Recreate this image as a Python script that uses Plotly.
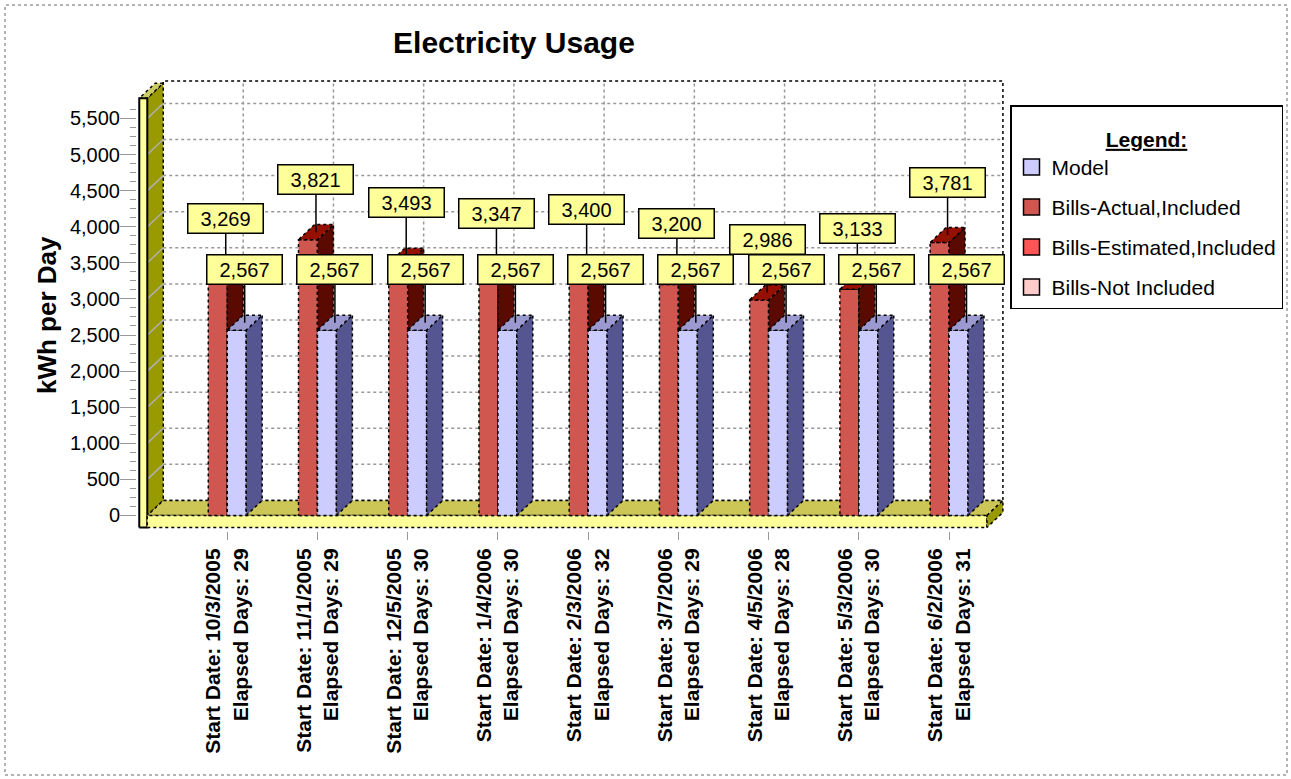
import plotly.graph_objects as go

# ---- data -------------------------------------------------------------
START_DATES = ["10/3/2005", "11/1/2005", "12/5/2005", "1/4/2006", "2/3/2006",
               "3/7/2006", "4/5/2006", "5/3/2006", "6/2/2006"]
ELAPSED_DAYS = [29, 29, 30, 30, 32, 29, 28, 30, 31]
BILLS_ACTUAL = [3269, 3821, 3493, 3347, 3400, 3200, 2986, 3133, 3781]
MODEL = [2567, 2567, 2567, 2567, 2567, 2567, 2567, 2567, 2567]
Y_TICKS = [0, 500, 1000, 1500, 2000, 2500, 3000, 3500, 4000, 4500, 5000, 5500]

LEGEND_NAMES = ["Model", "Bills-Actual,Included", "Bills-Estimated,Included", "Bills-Not Included"]
LEGEND_COLORS = ["#ccccff", "#d05650", "#ff5555", "#ffcccc"]

CATEGORY_LABELS = [f"Start Date: {d}<br>Elapsed Days: {n}" for d, n in zip(START_DATES, ELAPSED_DAYS)]
CATS = list(range(len(START_DATES)))

# ---- styling / pseudo-3D geometry (axis units) -------------------------
FONT = "Liberation Sans, Arial, sans-serif"
DX, DY = 0.177, 208          # depth offset of the back plane
BAR_W = 0.21                 # width of one bar face
WALL_L, WALL_R = -0.975, -0.886
WALL_TOP = 5780
FLOOR_R = 8.42
FLOOR_BOTTOM = -166
BACK_R = FLOOR_R + DX
BACK_TOP = 6020
X_RANGE = [-1.0, 8.62]
Y_RANGE = [-215, 6060]
MINOR_STEP = 125
MINOR_TICKS = [v for v in range(MINOR_STEP, Y_TICKS[-1] + 2 * MINOR_STEP, MINOR_STEP) if v % 500]

RED_FRONT, RED_SIDE, RED_TOP = "#d05650", "#5a0a00", "#951000"
MOD_FRONT, MOD_SIDE, MOD_TOP = "#ccccff", "#555592", "#9a9ad0"
WALL_FRONT, WALL_SIDE, WALL_CAP = "#ffff99", "#999900", "#cccc66"
FLOOR_TOP = "#cbc655"
EDGE = dict(color="black", width=1.5, dash="dot")

# figure box in pixels
W_PX, H_PX = 1291, 779
M_L, M_R, M_T, M_B = 137, 286, 78, 248
PLOT_W = W_PX - M_L - M_R
PLOT_H = H_PX - M_T - M_B


def px_to_paper_x(px):
    return (px - M_L) / PLOT_W


def px_to_paper_y(py):
    return (H_PX - M_B - py) / PLOT_H


def faces(polys, fill, line=EDGE):
    xs, ys = [], []
    for pxs, pys in polys:
        xs += list(pxs) + [pxs[0], None]
        ys += list(pys) + [pys[0], None]
    return go.Scatter(x=xs, y=ys, mode="lines", fill="toself", fillcolor=fill,
                      line=line, hoverinfo="skip", showlegend=False)


def lines(segs, color, width=1, dash="dot"):
    xs, ys = [], []
    for (x0, y0), (x1, y1) in segs:
        xs += [x0, x1, None]
        ys += [y0, y1, None]
    return go.Scatter(x=xs, y=ys, mode="lines", line=dict(color=color, width=width, dash=dash),
                      hoverinfo="skip", showlegend=False)


def box3d(x0, x1, v):
    front = ([x0, x1, x1, x0], [0, 0, v, v])
    side = ([x1, x1 + DX, x1 + DX, x1], [0, DY, v + DY, v])
    top = ([x0, x1, x1 + DX, x0 + DX], [v, v, v + DY, v + DY])
    return front, side, top


fig = go.Figure()

# back wall with its grid
fig.add_trace(faces([([WALL_R + DX, BACK_R, BACK_R, WALL_R + DX], [DY, DY, BACK_TOP, BACK_TOP])], "white"))
fig.add_trace(lines([((WALL_R + DX, v + DY), (BACK_R, v + DY)) for v in Y_TICKS[1:]], "#999999", 1.5))
fig.add_trace(lines([((c + DX, DY), (c + DX, BACK_TOP)) for c in CATS], "#999999", 1.5))

# left wall
fig.add_trace(faces([([WALL_R, WALL_R + DX, WALL_R + DX, WALL_R], [0, DY, WALL_TOP + DY, WALL_TOP])], WALL_SIDE))
fig.add_trace(lines([((WALL_R, v), (WALL_R + DX, v + DY)) for v in Y_TICKS[1:]], "#b0b0b0", 1.5, "solid"))
fig.add_trace(faces([([WALL_L, WALL_R, WALL_R + DX, WALL_L + DX], [WALL_TOP, WALL_TOP, WALL_TOP + DY, WALL_TOP + DY])], WALL_CAP))
fig.add_trace(faces([([WALL_L, WALL_R, WALL_R, WALL_L], [FLOOR_BOTTOM, FLOOR_BOTTOM, WALL_TOP, WALL_TOP])], WALL_FRONT,
                    dict(color="black", width=2)))

# floor
fig.add_trace(faces([([WALL_R, FLOOR_R, FLOOR_R + DX, WALL_R + DX], [0, 0, DY, DY])], FLOOR_TOP))
fig.add_trace(faces([([WALL_R, FLOOR_R, FLOOR_R, WALL_R], [FLOOR_BOTTOM, FLOOR_BOTTOM, 0, 0])], WALL_FRONT))
fig.add_trace(faces([([FLOOR_R, FLOOR_R + DX, FLOOR_R + DX, FLOOR_R], [0, DY, DY + FLOOR_BOTTOM, FLOOR_BOTTOM])], WALL_SIDE))

# bars: bills (left of each category) and model (right)
red = [box3d(c - BAR_W, c, v) for c, v in zip(CATS, BILLS_ACTUAL)]
mod = [box3d(c, c + BAR_W, v) for c, v in zip(CATS, MODEL)]
for k, col in enumerate([RED_FRONT, RED_SIDE, RED_TOP]):
    fig.add_trace(faces([b[k] for b in red], col))
for k, col in enumerate([MOD_FRONT, MOD_SIDE, MOD_TOP]):
    fig.add_trace(faces([b[k] for b in mod], col))

# legend entries
for name, col in zip(LEGEND_NAMES, LEGEND_COLORS):
    fig.add_trace(go.Scatter(x=[None], y=[None], mode="markers", name=name, legendgroup=name,
                             marker=dict(symbol="square", size=16, color=col,
                                         line=dict(color="black", width=1.5))))

# value call-outs pointing at the centre of each bar top
annotations = []
for series, offset in ((BILLS_ACTUAL, -BAR_W / 2), (MODEL, BAR_W / 2)):
    for c, v in zip(CATS, series):
        annotations.append(dict(
            x=c + offset + DX / 2, y=v + DY / 2, xref="x", yref="y",
            text=f"{v:,}", showarrow=True, arrowhead=0, arrowwidth=1.5, arrowcolor="black",
            ax=0, ay=-53, standoff=0,
            bgcolor="#ffff99", bordercolor="black", borderwidth=1.5, borderpad=2,
            width=70, height=24, font=dict(family=FONT, size=20, color="black")))

# vertical axis caption
annotations.append(dict(
    x=px_to_paper_x(47), y=px_to_paper_y(315), xref="paper", yref="paper",
    text="<b>kWh per Day</b>", textangle=-90, showarrow=False,
    xanchor="center", yanchor="middle", font=dict(family=FONT, size=26, color="black")))

fig.update_layout(
    width=W_PX, height=H_PX,
    margin=dict(l=M_L, r=M_R, t=M_T, b=M_B, autoexpand=False),
    paper_bgcolor="white", plot_bgcolor="white",
    font=dict(family=FONT, color="black"),
    title=dict(text="<b>Electricity Usage</b>", x=514 / W_PX, xanchor="center",
               y=1 - 42 / H_PX, yanchor="middle", font=dict(size=30, family=FONT)),
    xaxis=dict(range=X_RANGE, tickmode="array", tickvals=CATS, ticktext=CATEGORY_LABELS,
               tickangle=-90, ticks="outside", ticklen=8, tickcolor="#999999",
               tickfont=dict(size=21, family=FONT, weight="bold"),
               showgrid=False, zeroline=False, showline=False, fixedrange=True),
    yaxis=dict(range=Y_RANGE, tickmode="array", tickvals=Y_TICKS, tickformat=",",
               ticks="outside", ticklen=16, tickcolor="#999999", ticklabelstandoff=-4,
               minor=dict(tickmode="array", tickvals=MINOR_TICKS, ticks="outside", ticklen=6,
                          tickcolor="#999999"),
               tickfont=dict(size=20, family=FONT),
               showgrid=False, zeroline=False, showline=False, fixedrange=True),
    legend=dict(x=px_to_paper_x(1010), xanchor="left", y=px_to_paper_y(105), yanchor="top",
                bgcolor="white", bordercolor="black", borderwidth=1.5,
                font=dict(size=21, family=FONT), traceorder="grouped", tracegroupgap=9.7,
                title=dict(text='<span style="font-size:21px"><b><u>Legend:</u></b></span>',
                           side="top center", font=dict(size=31, family=FONT))),
    annotations=annotations,
    shapes=[dict(type="rect", xref="paper", yref="paper",
                 x0=px_to_paper_x(5), x1=px_to_paper_x(1287),
                 y0=px_to_paper_y(775), y1=px_to_paper_y(5),
                 line=dict(color="#9a9a9a", width=1.5, dash="dot"), layer="below")],
)

fig.write_html("out.html")
